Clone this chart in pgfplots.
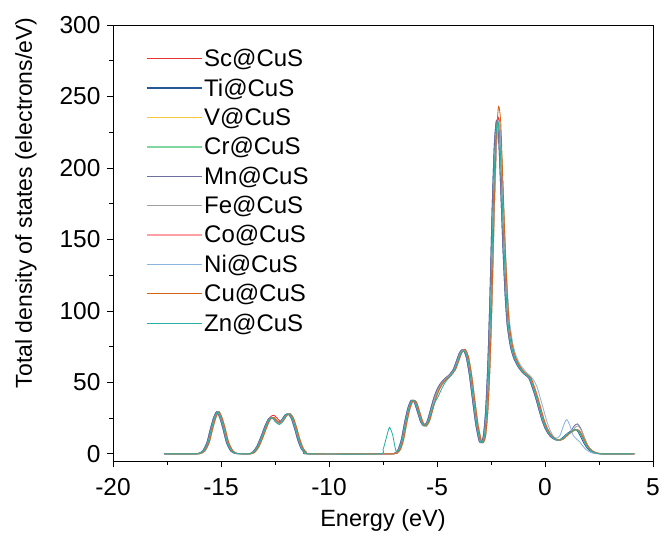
\documentclass[border=0pt]{standalone}
\usepackage{pgfplots}
\pgfplotsset{compat=1.18}
\usepackage{pgfplotstable}
\usepackage{fontspec}
\setmainfont{Liberation Sans}

% columns: xa = E-0.05, xb = E, xc = E+0.05; base curve plus variants
\pgfplotstableread{
xa xb xc base sc ni mn fe cu zn
-17.65 -17.60 -17.55 0 0 0 0 0 0 0
-16.25 -16.20 -16.15 0 0 0 0 0 0 0
-16.05 -16.00 -15.95 0.3 0.3 0.3 0.3 0.3 0.3 0.3
-15.85 -15.80 -15.75 2 2 2 2 2 2 2
-15.65 -15.60 -15.55 8 8 8 8 8 8 8
-15.50 -15.45 -15.40 17 17 17 17 17 17 17
-15.35 -15.30 -15.25 25 25 25 25 25 25 25
-15.20 -15.15 -15.10 29.5 29.5 29.5 29.5 29.5 29.5 29.5
-15.05 -15.00 -14.95 25 25 25 25 25 25 25
-14.90 -14.85 -14.80 17 17 17 17 17 17 17
-14.75 -14.70 -14.65 8 8 8 8 8 8 8
-14.55 -14.50 -14.45 2 2 2 2 2 2 2
-14.35 -14.30 -14.25 0.3 0.3 0.3 0.3 0.3 0.3 0.3
-14.05 -14.00 -13.95 0 0 0 0 0 0 0
-13.75 -13.70 -13.65 0 0 0 0 0 0 0
-13.55 -13.50 -13.45 1 1 1 1 1 1 1
-13.35 -13.30 -13.25 5 5 5 5 5 5 5
-13.15 -13.10 -13.05 12 12.5 12 12 12 12 12
-12.95 -12.90 -12.85 20 21 20 20 20 20 20
-12.80 -12.75 -12.70 24.5 26 24.5 24.5 24.5 24.5 24.5
-12.65 -12.60 -12.55 25.5 27 25.5 25.5 25.5 25.5 25
-12.50 -12.45 -12.40 23 25 23 23 23 23 22
-12.35 -12.30 -12.25 21.5 22.5 21.5 21.5 21.5 21.5 20.5
-12.20 -12.15 -12.10 23.5 23.5 23.5 23.5 23.5 23.5 22.5
-12.05 -12.00 -11.95 27 27 27 27 27 27 27
-11.90 -11.85 -11.80 28 28 28 28 28 28 28
-11.75 -11.70 -11.65 25 25 25 25 25 25 25
-11.60 -11.55 -11.50 18 18 18 18 18 18 18
-11.45 -11.40 -11.35 10 10 10 10 10 10 10
-11.30 -11.25 -11.20 4 4 4 4 4 4 4
-11.15 -11.10 -11.05 1 1 1 1 1 1 1
-10.95 -10.90 -10.85 0 0 0 0 0 0 0
-7.75 -7.70 -7.65 0 0 0 0 0 0 0
-7.55 -7.50 -7.45 0 0 0 0 0 0 3
-7.40 -7.35 -7.30 0 0 0 0 0 0 11
-7.25 -7.20 -7.15 0 0 0 0 0 0 18.5
-7.10 -7.05 -7.00 0 0 0 0 0 0 13
-6.95 -6.90 -6.85 0.5 0.5 0.5 0.5 0.5 0.5 2
-6.80 -6.75 -6.70 3 3 3 3 3 3 3
-6.65 -6.60 -6.55 10 10 10 10 10 10 10
-6.50 -6.45 -6.40 22 22 22 22 22 22 22
-6.35 -6.30 -6.25 32 32 32 32 32 32 32
-6.20 -6.15 -6.10 37.5 37.5 37.5 37.5 37.5 37.5 37.5
-6.05 -6.00 -5.95 36 36 36 36 36 36 36
-5.90 -5.85 -5.80 29 29 29 29 29 29 29
-5.75 -5.70 -5.65 22 22 22 22 22 22 22
-5.60 -5.55 -5.50 19.5 19.5 19.5 19.5 19.5 19.5 19.5
-5.45 -5.40 -5.35 23 23 23 23 23 23 23
-5.30 -5.25 -5.20 31 31 31 31 31 31 30
-5.15 -5.10 -5.05 39 39 39 39 39 39 36
-5.00 -4.95 -4.90 45 45 45 45 45 45 40
-4.85 -4.80 -4.75 49 49 49 49 49 49 45
-4.65 -4.60 -4.55 52.5 52.5 52.5 52.5 52.5 52.5 50.5
-4.45 -4.40 -4.35 55 55 55 55 55 55 54
-4.25 -4.20 -4.15 59 59 59 59 59 59 58.5
-4.10 -4.05 -4.00 65 65 65 65 65 65 64
-3.95 -3.90 -3.85 71 71 71 71 71 71 70
-3.80 -3.75 -3.70 73 73 73 73 73 73 72
-3.65 -3.60 -3.55 68 68 68 68 68 68 68
-3.50 -3.45 -3.40 55 55 55 55 55 55 55
-3.35 -3.30 -3.25 37 37 37 37 37 37 37
-3.20 -3.15 -3.10 20 20 20 20 20 20 20
-3.05 -3.00 -2.95 9 9 9 9 9 9 9
-2.95 -2.90 -2.85 8 8 8 8 8 8 8
-2.85 -2.80 -2.75 13 13 13 13 13 13 13
-2.75 -2.70 -2.65 30 30 30 30 30 30 30
-2.65 -2.60 -2.55 62 62 62 62 62 62 62
-2.55 -2.50 -2.45 110 110 110 110 110 112 110
-2.45 -2.40 -2.35 170 170 170 170 170 174 170
-2.35 -2.30 -2.25 215 216 215 215 215 222 215
-2.25 -2.20 -2.15 233 235 232 233 233 243 233
-2.15 -2.10 -2.05 222 223 222 222 222 232 222
-2.05 -2.00 -1.95 185 185 187 185 185 190 185
-1.95 -1.90 -1.85 145 145 148 145 145 147 145
-1.85 -1.80 -1.75 112 112 116 112 112 113 112
-1.75 -1.70 -1.65 90 90 94 90 90 90 90
-1.60 -1.55 -1.50 75 75 78 75 75 75 75
-1.45 -1.40 -1.35 67 67 69 67 67 67 67
-1.25 -1.20 -1.15 61 61 62.5 61 61 61 61
-1.05 -1.00 -0.95 57 57 58.5 57 57 57 57
-0.90 -0.85 -0.80 55 55 56 55 55 55 55
-0.75 -0.70 -0.65 53 53 54 53 53 53 53
-0.60 -0.55 -0.50 47 47 51 47 47 47 47
-0.45 -0.40 -0.35 40 40 46 40 40 40 40
-0.30 -0.25 -0.20 32 32 38 32 32 32 32
-0.15 -0.10 -0.05 24 24 30 24 24 24 24
0.00 0.05 0.10 18 18 22 18 18 18 18
0.15 0.20 0.25 14 14 16 14 14 14 14
0.30 0.35 0.40 11.5 11.5 12 11.5 11.5 11.5 11.5
0.45 0.50 0.55 10 10 11 10 10 10 10
0.60 0.65 0.70 9.5 9.5 13 9.5 9.5 9.5 9.5
0.75 0.80 0.85 10.5 10.5 19.5 10 10.5 10.5 10.5
0.90 0.95 1.00 12.5 12.5 24 11 12 12.5 12.5
1.05 1.10 1.15 14.5 14.5 20 13 14 14.5 14.5
1.20 1.25 1.30 16 16 13 16 15.5 16 16
1.35 1.40 1.45 17 17 10.5 19.5 18.5 17 17
1.50 1.55 1.60 16 16 8.5 21 19.5 16 16
1.65 1.70 1.75 12 12 5.5 18 16 12 12
1.80 1.85 1.90 7.5 7.5 3 12 10.5 7.5 7.5
1.95 2.00 2.05 4 4 1.5 6.5 5.5 4 4
2.10 2.15 2.20 2 2 0.5 3 2.5 2 2
2.25 2.30 2.35 0.8 0.8 0.1 1.2 1 0.8 0.8
2.45 2.50 2.55 0.2 0.2 0 0.3 0.2 0.2 0.2
2.65 2.70 2.75 0 0 0 0 0 0 0
4.05 4.10 4.15 0 0 0 0 0 0 0
}\dos

\definecolor{cSc}{RGB}{232,52,52}
\definecolor{cTi}{RGB}{38,88,150}
\definecolor{cV}{RGB}{250,200,60}
\definecolor{cCr}{RGB}{130,215,160}
\definecolor{cMn}{RGB}{110,110,160}
\definecolor{cFe}{RGB}{160,160,160}
\definecolor{cCo}{RGB}{255,160,165}
\definecolor{cNi}{RGB}{140,180,225}
\definecolor{cCu}{RGB}{215,100,20}
\definecolor{cZn}{RGB}{40,175,165}

\begin{document}
\begin{tikzpicture}
\begin{axis}[
name=ax,
width=540pt,
height=436pt,
scale only axis,
font=\fontsize{23.5}{28}\selectfont,
tick label style={font=\fontsize{24.5}{29}\selectfont},
xticklabel style={yshift=-8pt},
yticklabel style={xshift=-3pt},
/pgf/number format/assume math mode=true,
xmin=-20, xmax=5,
ymin=-5, ymax=300,
xtick={-20,-15,...,5},
ytick={0,50,...,300},
minor x tick num=1,
minor y tick num=1,
tick align=outside,
tick pos=left,
major tick length=6pt,
minor tick length=3.5pt,
axis line style={line width=0.9pt},
every tick/.style={black, line width=0.8pt},
xlabel={Energy (eV)},
xlabel style={yshift=-7pt},
ylabel={Total density of states (electrons/eV)},
ylabel style={at={(ticklabel cs:0.592)}, font=\fontsize{23}{27}\selectfont},
ylabel shift=16pt,
legend cell align={left},
legend style={
  draw=none, fill=none,
  at={(0.055,0.954)}, anchor=north west,
  font=\fontsize{24}{28}\selectfont,
  row sep=6.5pt,
},
legend image code/.code={\draw[#1, line width=1.3pt] (0pt,0pt) -- (55pt,0pt);},
every axis plot/.append style={line width=0.85pt, smooth, tension=0.4},
]
\addplot [cSc] table [x=xc, y=sc] {\dos};
\addlegendentry{Sc@CuS}
\addplot [cTi] table [x=xa, y=base] {\dos};
\addlegendentry{Ti@CuS}
\addplot [cV] table [x=xc, y=base] {\dos};
\addlegendentry{V@CuS}
\addplot [cCr] table [x=xb, y=base] {\dos};
\addlegendentry{Cr@CuS}
\addplot [cMn] table [x=xa, y=mn] {\dos};
\addlegendentry{Mn@CuS}
\addplot [cFe] table [x=xb, y=fe] {\dos};
\addlegendentry{Fe@CuS}
\addplot [cCo] table [x=xc, y=base] {\dos};
\addlegendentry{Co@CuS}
\addplot [cNi] table [x=xc, y=ni] {\dos};
\addlegendentry{Ni@CuS}
\addplot [cCu] table [x=xc, y=cu] {\dos};
\addlegendentry{Cu@CuS}
\addplot [cZn] table [x=xb, y=zn] {\dos};
\addlegendentry{Zn@CuS}
\end{axis}
\pgfresetboundingbox
\path[use as bounding box] ([xshift=-113pt,yshift=-74pt]ax.south west) rectangle ([xshift=12pt,yshift=25pt]ax.north east);
\end{tikzpicture}
\end{document}
